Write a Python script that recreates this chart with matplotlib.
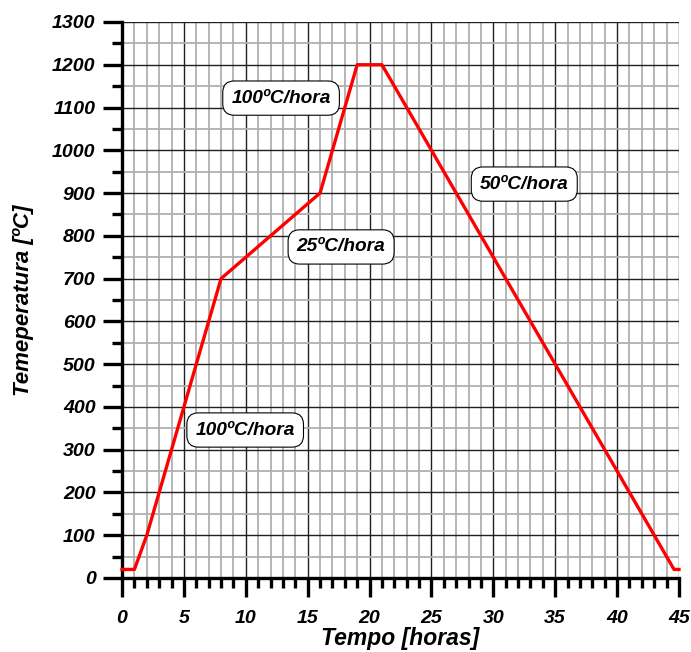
import matplotlib
matplotlib.use("Agg")
import matplotlib.pyplot as plt
from matplotlib.ticker import MultipleLocator

plt.rcParams['font.family'] = ['Liberation Sans', 'DejaVu Sans']

# Data
tempo = [0, 1, 2, 8, 16, 19, 21, 44.6, 45]
temperatura = [20, 20, 100, 700, 900, 1200, 1200, 20, 20]

annot_texts = ["100ºC/hora", "50ºC/hora", "25ºC/hora", "100ºC/hora"]
annot_x = [12.85, 32.5, 17.7, 9.95]
annot_y = [1122, 921, 774, 346]

fig = plt.figure(figsize=(6.91, 6.52), dpi=100)
ax = fig.add_axes([0.1766, 0.1135, 0.8060, 0.8528])

ax.set_xlim(0, 45)
ax.set_ylim(0, 1300)

ax.xaxis.set_major_locator(MultipleLocator(5))
ax.xaxis.set_minor_locator(MultipleLocator(1))
ax.yaxis.set_major_locator(MultipleLocator(100))
ax.yaxis.set_minor_locator(MultipleLocator(50))

ax.grid(which='minor', color='#b0b0b0', linewidth=1.3, zorder=0)
ax.grid(which='major', color='#202020', linewidth=1.0, zorder=0)
ax.set_axisbelow(True)

for s in ['top', 'right']:
    ax.spines[s].set_visible(False)
for s in ['left', 'bottom']:
    ax.spines[s].set_linewidth(2.4)
    ax.spines[s].set_color('black')

ax.tick_params(which='major', direction='out', length=14, width=2.4, colors='black',
               labelsize=14)
ax.tick_params(which='minor', direction='out', length=7.5, width=2.4, colors='black')
ax.tick_params(axis='x', which='major', pad=9)
ax.tick_params(axis='y', which='major', pad=5)

for lab in ax.get_xticklabels() + ax.get_yticklabels():
    lab.set_fontweight('bold')
    lab.set_fontstyle('italic')

ax.plot(tempo, temperatura, color='#ff0000', linewidth=2.4, zorder=5, clip_on=False)

for t, x, y in zip(annot_texts, annot_x, annot_y):
    ax.text(x, y, t, ha='center', va='center', fontsize=13.8, fontweight='bold',
            fontstyle='italic', zorder=6,
            bbox=dict(boxstyle='round,pad=0.45,rounding_size=0.6', fc='white', ec='black', lw=0.8))

ax.set_xlabel('Tempo [horas]', fontsize=16.5, fontweight='bold', fontstyle='italic', labelpad=0)
ax.set_ylabel('Temeperatura [ºC]', fontsize=16, fontweight='bold', fontstyle='italic', labelpad=13)

fig.savefig('out.png', dpi=100)
